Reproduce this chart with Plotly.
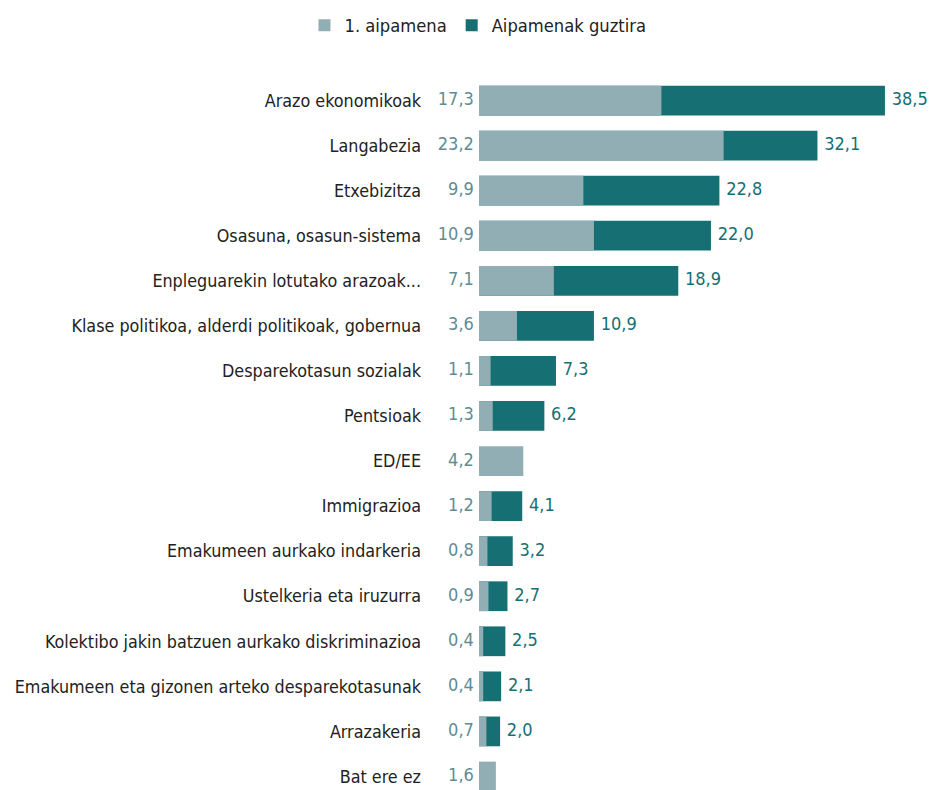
import plotly.graph_objects as go

categories = ['Arazo ekonomikoak', 'Langabezia', 'Etxebizitza', 'Osasuna, osasun-sistema',
              'Enpleguarekin lotutako arazoak...', 'Klase politikoa, alderdi politikoak, gobernua',
              'Desparekotasun sozialak', 'Pentsioak', 'ED/EE', 'Immigrazioa',
              'Emakumeen aurkako indarkeria', 'Ustelkeria eta iruzurra',
              'Kolektibo jakin batzuen aurkako diskriminazioa',
              'Emakumeen eta gizonen arteko desparekotasunak', 'Arrazakeria', 'Bat ere ez']
first = [17.3, 23.2, 9.9, 10.9, 7.1, 3.6, 1.1, 1.3, 4.2, 1.2, 0.8, 0.9, 0.4, 0.4, 0.7, 1.6]
total = [38.5, 32.1, 22.8, 22.0, 18.9, 10.9, 7.3, 6.2, None, 4.1, 3.2, 2.7, 2.5, 2.1, 2.0, None]

light = '#91aeb4'
dark = '#156f73'
font = 'DejaVu Sans Condensed, sans-serif'
fs = 18


def fmt(v):
    return '' if v is None else f'{v:.1f}'.replace('.', ',')


fig = go.Figure()

fig.add_trace(go.Bar(
    y=categories, x=total, orientation='h', name='Aipamenak guztira',
    marker=dict(color=dark, line=dict(width=0)), width=0.66,
    legendrank=2, hoverinfo='skip',
))
fig.add_trace(go.Bar(
    y=categories, x=first, orientation='h', name='1. aipamena',
    marker=dict(color=light, line=dict(width=0)), width=0.66,
    legendrank=1, hoverinfo='skip',
))

# value labels: first mention left of the bar, total right of the bar
fig.add_trace(go.Scatter(
    y=categories, x=[0] * len(categories), mode='text',
    text=[fmt(v) + ' ' for v in first], textposition='middle left',
    textfont=dict(color='#5f8c93', size=fs, family=font),
    showlegend=False, hoverinfo='skip', cliponaxis=False,
))
fig.add_trace(go.Scatter(
    y=categories, x=[v if v is not None else 0 for v in total], mode='text',
    text=[' \u200a' + fmt(v) for v in total], textposition='middle right',
    textfont=dict(color=dark, size=fs, family=font),
    showlegend=False, hoverinfo='skip', cliponaxis=False,
))

fig.update_layout(
    width=929, height=782,
    margin=dict(l=471, r=12, t=70, b=0, autoexpand=False),
    barmode='overlay',
    plot_bgcolor='white', paper_bgcolor='white',
    font=dict(family=font, size=fs, color='#222222'),
    legend=dict(orientation='h', xref='container', yref='container',
                x=0.5059, y=0.9778, xanchor='center', yanchor='middle',
                font=dict(size=18.2, color='#222222'), traceorder='normal'),
    xaxis=dict(range=[0, 42.3], visible=False, automargin=False),
    yaxis=dict(range=[15.3, -0.5], showgrid=False, zeroline=False, showline=False,
               automargin=False, ticks='', ticklabelstandoff=57,
               tickfont=dict(size=17.8, color='#222222')),
)

fig.write_html('out.html')
